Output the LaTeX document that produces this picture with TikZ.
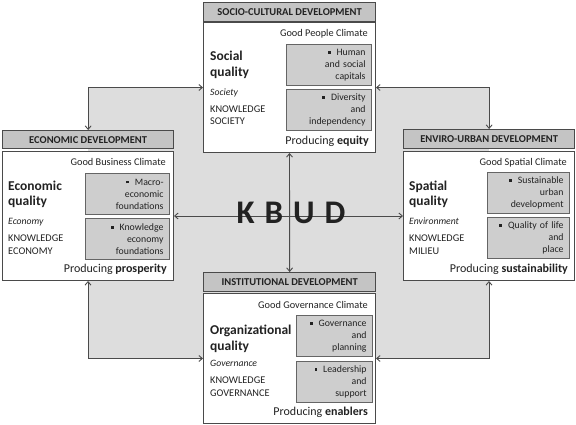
\documentclass[tikz,border=0pt]{standalone}
\usepackage{fontspec}
\setmainfont{Carlito}
\usetikzlibrary{arrows.meta,backgrounds}
\definecolor{edge}{HTML}{4A4A4A}
\definecolor{hdrfill}{HTML}{C4C4C4}
\definecolor{boxfill}{HTML}{CECECE}
\definecolor{bgfill}{HTML}{DDDDDD}
\definecolor{txt}{HTML}{222222}
\newcommand\bul{\raisebox{1.6pt}{\rule{2.6pt}{2.6pt}}\hspace{6pt}}
\tikzset{
  hdr/.style={draw=edge, fill=hdrfill, line width=1.3pt, anchor=north west, inner sep=0pt, text=txt,
    font=\bfseries\fontsize{10.5}{11}\selectfont},
  body/.style={draw=edge, fill=white, line width=1pt, anchor=north west, inner sep=0pt},
  item/.style={draw=edge!85, fill=boxfill, line width=0.9pt, anchor=north east, minimum height=41pt,
    align=right, inner xsep=6pt, inner ysep=0pt, text=txt, font=\fontsize{9.8}{12}\selectfont},
  climate/.style={anchor=base east, inner sep=0pt, text=txt, font=\fontsize{10.3}{11}\selectfont},
  qual/.style={anchor=base west, inner sep=0pt, text=txt, font=\bfseries\fontsize{13.5}{16}\selectfont},
  ital/.style={anchor=base west, inner sep=0pt, text=txt, font=\itshape\fontsize{9.7}{11}\selectfont},
  kn/.style={anchor=base west, inner sep=0pt, text=txt, font=\fontsize{10.3}{11}\selectfont},
  prod/.style={anchor=base east, inner sep=0pt, text=txt, font=\fontsize{12}{14}\selectfont},
  link/.style={draw=edge, line width=0.9pt, {Straight Barb[length=3.5pt,width=6pt]}-{Straight Barb[length=3.5pt,width=6pt]}},
}
\begin{document}
\begin{tikzpicture}[x=1pt,y=-1pt]
\useasboundingbox (0,0) rectangle (576,425);

% ---------- top block ----------
\begin{scope}[shift={(203,22)}]
  \node[body, minimum width=172pt, minimum height=130pt] (tb) at (0,0) {};
  \node[hdr, minimum width=172pt, minimum height=19pt] (th) at (0,-20) {SOCIO-CULTURAL DEVELOPMENT};
  \node[climate] (tc) at (165,14.5) {Good People Climate};
  \node[qual] (tq1) at (7,39) {Social};
  \node[qual] (tq2) at (7,55) {quality};
  \node[ital] (ti) at (7,73.5) {Society};
  \node[kn] (tk1) at (7,90.5) {KNOWLEDGE};
  \node[kn] (tk2) at (7,103) {SOCIETY};
  \node[item, text width=73pt] (tx1) at (169,22) {\bul Human\\and social\\capitals};
  \node[item, text width=73pt] (tx2) at (169,67) {\bul Diversity\\and\\independency};
  \node[prod] (tp) at (166,123) {Producing \textbf{equity}};
\end{scope}

% ---------- left block ----------
\begin{scope}[shift={(2,151)}]
  \node[body, minimum width=171pt, minimum height=129pt] (lb) at (0,0) {};
  \node[hdr, minimum width=171pt, minimum height=18pt] (lh) at (0,-21) {ECONOMIC DEVELOPMENT};
  \node[climate] (lc) at (164,14.5) {Good Business Climate};
  \node[qual] (lq1) at (6,39) {Economic};
  \node[qual] (lq2) at (6,55) {quality};
  \node[ital] (li) at (6,73.5) {Economy};
  \node[kn] (lk1) at (6,90.5) {KNOWLEDGE};
  \node[kn] (lk2) at (6,103) {ECONOMY};
  \node[item, text width=72pt] (lx1) at (168,22) {\bul Macro-\\economic\\foundations};
  \node[item, text width=72pt] (lx2) at (168,67) {\bul Knowledge\\economy\\foundations};
  \node[prod] (lp) at (165,121.5) {Producing \textbf{prosperity}};
\end{scope}

% ---------- right block ----------
\begin{scope}[shift={(403,151)}]
  \node[body, minimum width=171pt, minimum height=129pt] (rb) at (0,0) {};
  \node[hdr, minimum width=171pt, minimum height=19pt] (rh) at (0,-22) {ENVIRO-URBAN DEVELOPMENT};
  \node[climate] (rc) at (164,14.5) {Good Spatial Climate};
  \node[qual] (rq1) at (6,39) {Spatial};
  \node[qual] (rq2) at (6,55) {quality};
  \node[ital] (ri) at (6,73.5) {Environment};
  \node[kn] (rk1) at (6,90.5) {KNOWLEDGE};
  \node[kn] (rk2) at (6,103) {MILIEU};
  \node[item, text width=70pt] (rx1) at (167,21) {\bul Sustainable\\urban\\development};
  \node[item, text width=70pt] (rx2) at (167,66) {\bul Quality of life\\and\\place};
  \node[prod] (rp) at (165,121.5) {Producing \textbf{sustainability}};
\end{scope}

% ---------- bottom block ----------
\begin{scope}[shift={(203,293)}]
  \node[body, minimum width=172pt, minimum height=130pt] (bb) at (0,0) {};
  \node[hdr, minimum width=172pt, minimum height=19pt] (bh) at (0,-21) {INSTITUTIONAL DEVELOPMENT};
  \node[climate] (bc) at (165,15) {Good Governance Climate};
  \node[qual] (bq1) at (7,41) {Organizational};
  \node[qual] (bq2) at (7,57) {quality};
  \node[ital] (bi) at (7,73.5) {Governance};
  \node[kn] (bk1) at (7,90.5) {KNOWLEDGE};
  \node[kn] (bk2) at (7,103) {GOVERNANCE};
  \node[item, text width=64pt] (bx1) at (170,22) {\bul Governance\\and\\planning};
  \node[item, text width=64pt] (bx2) at (170,68) {\bul Leadership\\and\\support};
  \node[prod] (bp) at (165,122.5) {Producing \textbf{enablers}};
\end{scope}

% ---------- background and connectors ----------
\begin{scope}[on background layer]
  \fill[bgfill] (lh.north |- tb.west) rectangle (rb.south |- bb.east);
  \draw[link] (tb.west) -| (lh.north);
  \draw[link] (tb.east) -| (rh.north);
  \draw[link] (lb.south) |- (bb.west);
  \draw[link] (rb.south) |- (bb.east);
  \draw[link] (tb.south) -- (bh.north);
  \draw[link] (lb.east) -- (rb.west);
\end{scope}

\node[text=txt, font=\bfseries\fontsize{33}{36}\selectfont, inner sep=0pt] (kbud) at (291,213) {K\hspace{10pt}B\hspace{10pt}U\hspace{10pt}D};
\end{tikzpicture}
\end{document}
